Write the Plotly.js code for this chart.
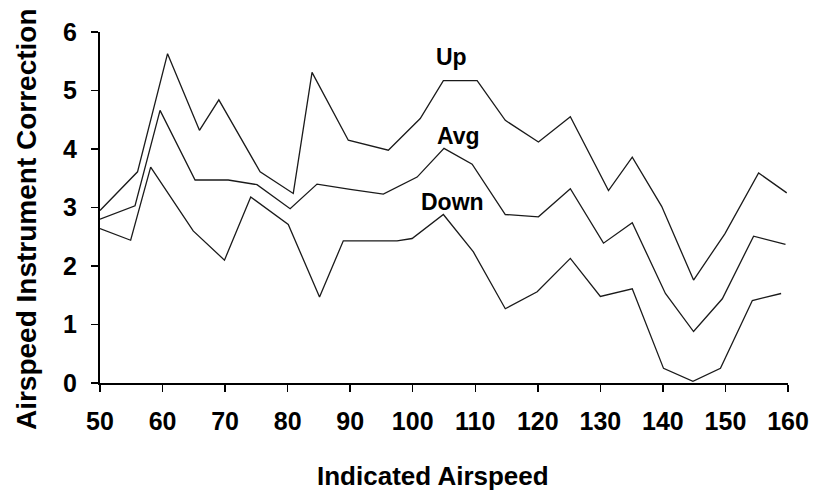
<!DOCTYPE html>
<html>
<head>
<meta charset="utf-8">
<script src="https://cdn.plot.ly/plotly-3.0.1.min.js"></script>
<style>
  html, body { margin: 0; padding: 0; background: #ffffff; }
  #chart { width: 814px; height: 494px; }
</style>
</head>
<body>
<div id="chart"></div>
<script>
// Data
const upX   = [50, 56.0, 60.8, 65.9, 69.0, 75.6, 80.9, 83.9, 89.7, 96.1, 101.2, 104.9, 110.3, 114.8, 120.1, 125.2, 131.3, 135.1, 139.8, 144.9, 149.9, 155.3, 159.8];
const upY   = [2.95, 3.61, 5.63, 4.32, 4.84, 3.61, 3.24, 5.31, 4.15, 3.98, 4.52, 5.17, 5.17, 4.49, 4.12, 4.55, 3.29, 3.86, 3.02, 1.76, 2.55, 3.59, 3.25];

const avgX  = [50, 55.6, 59.6, 65.2, 70.5, 75.1, 80.4, 84.7, 90.0, 95.3, 100.7, 105.0, 109.5, 114.8, 120.1, 125.2, 130.5, 135.1, 140.4, 144.9, 149.5, 154.5, 159.6];
const avgY  = [2.80, 3.03, 4.66, 3.47, 3.47, 3.39, 2.98, 3.40, 3.31, 3.23, 3.52, 4.01, 3.74, 2.88, 2.84, 3.32, 2.39, 2.74, 1.53, 0.88, 1.44, 2.51, 2.37];

const downX = [50, 54.9, 58.1, 64.9, 69.9, 74.1, 80.1, 85.1, 88.9, 97.5, 99.9, 104.9, 109.7, 114.8, 119.9, 125.2, 130.0, 135.1, 140.1, 144.8, 149.2, 154.3, 158.9];
const downY = [2.64, 2.44, 3.69, 2.60, 2.10, 3.18, 2.71, 1.47, 2.43, 2.43, 2.47, 2.88, 2.24, 1.27, 1.56, 2.13, 1.48, 1.61, 0.25, 0.03, 0.25, 1.41, 1.53];

const seriesNames = ["Up", "Avg", "Down"];
const labelX = [106.2, 107.3, 106.3];
const labelY = [5.57, 4.23, 3.09];

const xTicks = [50, 60, 70, 80, 90, 100, 110, 120, 130, 140, 150, 160];
const yTicks = [0, 1, 2, 3, 4, 5, 6];

const xTitle = "Indicated Airspeed";
const yTitle = "Airspeed Instrument Correction";

const FONT = "Liberation Sans, Arial, sans-serif";
const lineStyle = { color: "#1a1a1a", width: 1.3 };

const traces = [
  { x: upX, y: upY, name: seriesNames[0] },
  { x: avgX, y: avgY, name: seriesNames[1] },
  { x: downX, y: downY, name: seriesNames[2] }
].map(t => Object.assign(t, { type: "scatter", mode: "lines", line: lineStyle, hoverinfo: "x+y+name" }));

const annotations = seriesNames.map((n, i) => ({
  x: labelX[i], y: labelY[i], xref: "x", yref: "y",
  text: n, showarrow: false, xanchor: "center", yanchor: "middle",
  font: { family: FONT, size: 23, weight: "bold", color: "#000" }
}));

// axis titles placed as paper annotations to match the reference position
annotations.push({
  x: 0.484, y: -0.265, xref: "paper", yref: "paper",
  text: xTitle, showarrow: false, xanchor: "center", yanchor: "middle",
  font: { family: FONT, size: 26, weight: "bold", color: "#000" }
});
annotations.push({
  x: -0.1076, y: 0.467, xref: "paper", yref: "paper", textangle: -90,
  text: yTitle, showarrow: false, xanchor: "center", yanchor: "middle",
  font: { family: FONT, size: 28, weight: "bold", color: "#000" }
});

const tickFont = { family: FONT, size: 25, weight: "bold", color: "#000" };

const layout = {
  width: 814, height: 494,
  paper_bgcolor: "#ffffff", plot_bgcolor: "#ffffff",
  showlegend: false,
  margin: { l: 100, r: 26, t: 32, b: 111, pad: 0 },
  font: { family: FONT, color: "#000" },
  xaxis: {
    range: [50, 160], tickvals: xTicks, ticktext: xTicks.map(String),
    showgrid: false, zeroline: false,
    showline: true, linecolor: "#000", linewidth: 2,
    ticks: "outside", ticklen: 7, tickwidth: 1.5, tickcolor: "#000",
    tickfont: tickFont,
    ticklabelstandoff: 8,
    automargin: false
  },
  yaxis: {
    range: [0, 6], tickvals: yTicks, ticktext: yTicks.map(String),
    showgrid: false, zeroline: false,
    showline: true, linecolor: "#000", linewidth: 2,
    ticks: "outside", ticklen: 7, tickwidth: 1.5, tickcolor: "#000",
    tickfont: tickFont,
    ticklabelstandoff: 9,
    automargin: false
  },
  annotations: annotations
};

Plotly.newPlot("chart", traces, layout, { displayModeBar: false, staticPlot: true });
</script>
</body>
</html>
